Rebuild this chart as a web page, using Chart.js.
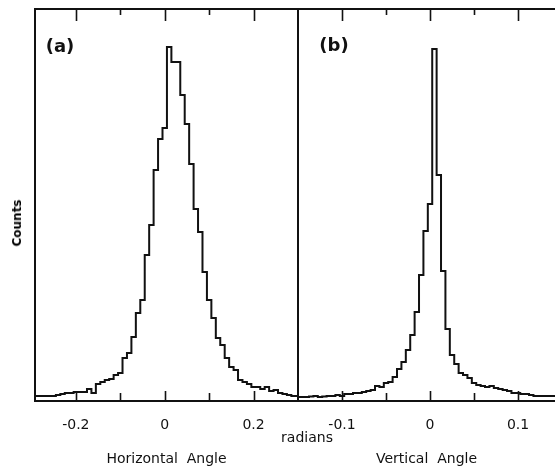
<!DOCTYPE html>
<html>
<head>
<meta charset="utf-8">
<script src="https://cdn.jsdelivr.net/npm/chart.js@4.4.1/dist/chart.umd.min.js"></script>
<style>
  body { margin: 0; background: #fff; }
  #wrap { position: relative; width: 555px; height: 468px; overflow: hidden; font-family: "DejaVu Sans", sans-serif; color: #111; }
  canvas { position: absolute; top: 0; }
  .lbl { position: absolute; transform: translate(-50%, -50%); white-space: nowrap; }
</style>
</head>
<body>
<div id="wrap">
  <canvas id="chartA" width="300" height="468" style="left:0"></canvas>
  <canvas id="chartB" width="295" height="468" style="left:260px"></canvas>
  <div class="lbl" style="left:17px; top:223px; font-size:12px; font-weight:bold; color:#000; transform:translate(-50%,-50%) rotate(-90deg);">Counts</div>
  <div class="lbl" style="left:307px; top:437px; font-size:14px;">radians</div>
  <div class="lbl" style="left:60px; top:45px; font-size:18px; font-weight:bold;">(a)</div>
  <div class="lbl" style="left:334px; top:44px; font-size:18px; font-weight:bold;">(b)</div>
</div>
<script>
// --- data (counts are in arbitrary units, no y scale on the original) ---

// (a) horizontal angle, 0.01 rad bins
const binsA = [-0.29, -0.28, -0.27, -0.26, -0.25, -0.24, -0.23, -0.22, -0.21, -0.20,
               -0.19, -0.18, -0.17, -0.16, -0.15, -0.14, -0.13, -0.12, -0.11, -0.10,
               -0.09, -0.08, -0.07, -0.06, -0.05, -0.04, -0.03, -0.02, -0.01, 0.00,
                0.01,  0.02,  0.03,  0.04,  0.05,  0.06,  0.07,  0.08,  0.09, 0.10,
                0.11,  0.12,  0.13,  0.14,  0.15,  0.16,  0.17,  0.18,  0.19, 0.20,
                0.21,  0.22,  0.23,  0.24,  0.25,  0.26,  0.27,  0.28,  0.29, 0.30];
const countsA = [5, 5, 5, 5, 5, 6, 7, 8, 8, 9,
                 9, 9, 12, 8, 17, 19, 21, 22, 26, 28,
                 43, 48, 64, 88, 101, 146, 176, 231, 262, 273,
                 354, 339, 339, 306, 277, 237, 192, 169, 129, 101,
                 83, 63, 56, 43, 34, 31, 21, 19, 17, 14,
                 14, 12, 14, 10, 11, 8, 7, 6, 5, 5];

// (b) vertical angle, 0.005 rad bins
const binsB = [-0.150, -0.145, -0.140, -0.135, -0.130, -0.125, -0.120, -0.115, -0.110, -0.105,
               -0.100, -0.095, -0.090, -0.085, -0.080, -0.075, -0.070, -0.065, -0.060, -0.055,
               -0.050, -0.045, -0.040, -0.035, -0.030, -0.025, -0.020, -0.015, -0.010, -0.005,
                0.000,  0.005,  0.010,  0.015,  0.020,  0.025,  0.030,  0.035,  0.040,  0.045,
                0.050,  0.055,  0.060,  0.065,  0.070,  0.075,  0.080,  0.085,  0.090,  0.095,
                0.100,  0.105,  0.110,  0.115,  0.120,  0.125,  0.130,  0.135,  0.140,  0.145];
const countsB = [4, 4, 4, 4.5, 5, 4, 4.5, 5, 5, 6,
                 5, 7, 7, 8, 8, 9, 10, 11, 15, 14,
                 18, 19, 24, 32, 39, 51, 66, 89, 126, 170,
                 197, 352, 226, 130, 72, 46, 37, 28, 26, 23,
                 18, 16, 15, 14, 15, 13, 12, 11, 10, 8,
                 8, 7, 7, 6, 5, 5, 5, 5, 5, 5];

// tick positions + labels
const ticksA = [-0.2, -0.1, 0, 0.1, 0.2];
const tickLabelsA = ['-0.2', '', '0', '', '0.2'];
const ticksB = [-0.1, -0.05, 0, 0.05, 0.1];
const tickLabelsB = ['-0.1', '', '0', '', '0.1'];

const INK = '#111';

// frame + inward tick marks, drawn from the x scale
const frameTicks = {
  id: 'frameTicks',
  afterDatasetsDraw(chart, args, opts) {
    const { ctx, chartArea: a } = chart;
    const sx = chart.scales.x;
    ctx.save();
    ctx.strokeStyle = INK;
    ctx.lineWidth = 2;
    ctx.lineCap = 'square';
    ctx.beginPath();
    ctx.moveTo(a.left, a.top); ctx.lineTo(a.right, a.top);
    ctx.moveTo(a.left, a.top); ctx.lineTo(a.left, a.bottom);
    ctx.moveTo(a.left, a.bottom); ctx.lineTo(a.right, a.bottom);
    if (opts.right) { ctx.moveTo(a.right, a.top); ctx.lineTo(a.right, a.bottom); }
    ctx.stroke();

    ctx.lineWidth = 1.6;
    ctx.lineCap = 'butt';
    sx.ticks.forEach((t, i) => {
      const px = Math.round(sx.getPixelForValue(t.value)) + 0.5;
      const major = opts.labels[i] !== '';
      ctx.beginPath();
      ctx.moveTo(px, a.bottom); ctx.lineTo(px, a.bottom - (major ? 10 : 8));
      ctx.moveTo(px, a.top); ctx.lineTo(px, a.top + (major ? 12 : 6));
      ctx.stroke();
    });
    ctx.restore();
  }
};

function makePanel(canvasId, bins, counts, xMin, xMax, tickVals, tickLabels, title, pad, rightSide) {
  return new Chart(document.getElementById(canvasId), {
    type: 'line',
    data: {
      labels: bins,
      datasets: [{
        data: bins.map((b, i) => ({ x: b, y: counts[i] })),
        stepped: 'middle',
        borderColor: INK,
        borderWidth: 2,
        borderJoinStyle: 'miter',
        pointRadius: 0,
        fill: false
      }]
    },
    options: {
      responsive: false,
      animation: false,
      layout: { padding: pad },
      plugins: {
        legend: { display: false },
        tooltip: { enabled: false },
        frameTicks: { right: rightSide, labels: tickLabels }
      },
      scales: {
        x: {
          type: 'linear',
          min: xMin,
          max: xMax,
          grid: { display: false },
          border: { display: false },
          afterBuildTicks: (scale) => { scale.ticks = tickVals.map(v => ({ value: v })); },
          afterFit: (scale) => { scale.height = 67; },
          ticks: {
            autoSkip: false,
            maxRotation: 0,
            padding: 8,
            color: INK,
            font: { family: 'DejaVu Sans', size: 14 },
            callback: (v) => {
              const i = tickVals.findIndex(t => Math.abs(t - v) < 1e-9);
              return i >= 0 ? tickLabels[i] : '';
            }
          },
          title: {
            display: true,
            text: title,
            color: INK,
            padding: { top: 0, bottom: 0 },
            font: { family: 'DejaVu Sans', size: 14 }
          }
        },
        y: { display: false, min: 0, max: 392 }
      }
    },
    plugins: [frameTicks]
  });
}

makePanel('chartA', binsA, countsA, -0.292, 0.3, ticksA, tickLabelsA, 'Horizontal  Angle',
  { left: 35, right: 2, top: 9, bottom: 0 }, true);
makePanel('chartB', binsB, countsB, -0.15, 0.142, ticksB, tickLabelsB, 'Vertical  Angle',
  { left: 38, right: 0, top: 9, bottom: 0 }, false);
</script>
</body>
</html>
